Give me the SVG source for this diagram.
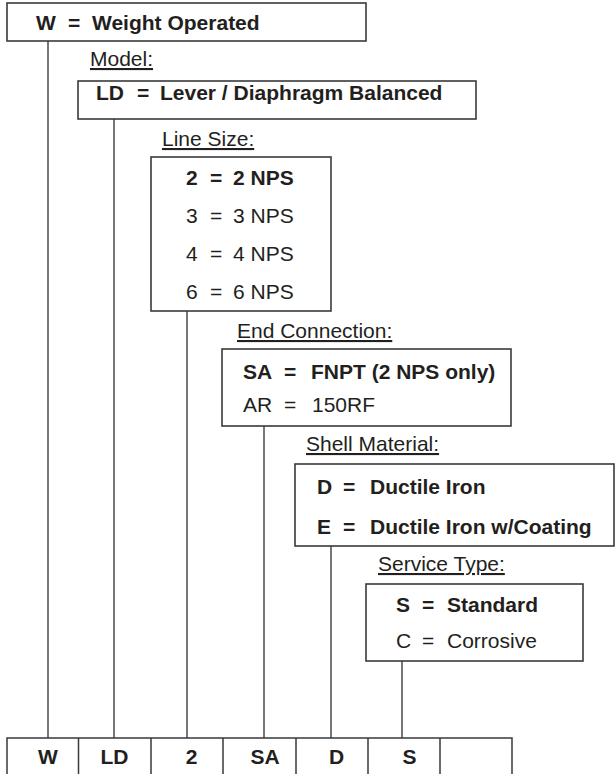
<svg xmlns="http://www.w3.org/2000/svg" width="615" height="774" viewBox="0 0 615 774">
<style>
text{font-family:"Liberation Sans",Arial,sans-serif;font-size:21px;fill:#231f20}
.b{font-weight:bold}
.lbl{text-decoration:underline}
.box{fill:#fff;stroke:#3a3a3a;stroke-width:1.6}
.con{stroke:#4a4a4a;stroke-width:1.5;fill:none}
.cell{stroke:#3a3a3a;stroke-width:1.5;fill:none}
.c{text-anchor:middle;font-weight:bold}
</style>
<rect width="615" height="774" fill="#fff"/>
<g id="connectors">
<line class="con" x1="48" y1="41" x2="48" y2="738"/>
<line class="con" x1="114" y1="119" x2="114" y2="738"/>
<line class="con" x1="187" y1="311" x2="187" y2="738"/>
<line class="con" x1="264" y1="426" x2="264" y2="738"/>
<line class="con" x1="331" y1="546" x2="331" y2="738"/>
<line class="con" x1="402" y1="661" x2="402" y2="738"/>
</g>
<g id="node-weight">
<rect class="box" x="7" y="3" width="359" height="38"/>
<text class="b" y="30"><tspan x="36">W</tspan><tspan x="68">=</tspan><tspan x="92">Weight Operated</tspan></text>
</g>
<g id="node-model">
<text class="lbl" x="90" y="66">Model:</text>
<rect class="box" x="78" y="81" width="398" height="38"/>
<text class="b" y="100"><tspan x="96">LD</tspan><tspan x="137">=</tspan><tspan x="160">Lever / Diaphragm Balanced</tspan></text>
</g>
<g id="node-linesize">
<text class="lbl" x="162" y="146">Line Size:</text>
<rect class="box" x="151" y="157" width="180" height="154"/>
<text class="b" y="185"><tspan x="186">2</tspan><tspan x="210">=</tspan><tspan x="233">2 NPS</tspan></text>
<text y="223"><tspan x="186">3</tspan><tspan x="210">=</tspan><tspan x="233">3 NPS</tspan></text>
<text y="261"><tspan x="186">4</tspan><tspan x="210">=</tspan><tspan x="233">4 NPS</tspan></text>
<text y="299"><tspan x="186">6</tspan><tspan x="210">=</tspan><tspan x="233">6 NPS</tspan></text>
</g>
<g id="node-endconnection">
<text class="lbl" x="237" y="338">End Connection:</text>
<rect class="box" x="222" y="349" width="289" height="77"/>
<text class="b" y="379"><tspan x="243">SA</tspan><tspan x="284">=</tspan><tspan x="311">FNPT (2 NPS only)</tspan></text>
<text y="412"><tspan x="243">AR</tspan><tspan x="284">=</tspan><tspan x="312">150RF</tspan></text>
</g>
<g id="node-shellmaterial">
<text class="lbl" x="306" y="451">Shell Material:</text>
<rect class="box" x="295" y="464" width="319" height="82"/>
<text class="b" y="494"><tspan x="317">D</tspan><tspan x="343">=</tspan><tspan x="370">Ductile Iron</tspan></text>
<text class="b" y="534"><tspan x="317">E</tspan><tspan x="343">=</tspan><tspan x="370">Ductile Iron w/Coating</tspan></text>
</g>
<g id="node-servicetype">
<text class="lbl" x="378" y="571">Service Type:</text>
<rect class="box" x="366" y="584" width="217" height="77"/>
<text class="b" y="612"><tspan x="396">S</tspan><tspan x="422">=</tspan><tspan x="447">Standard</tspan></text>
<text y="648"><tspan x="396">C</tspan><tspan x="422">=</tspan><tspan x="447">Corrosive</tspan></text>
</g>
<g id="node-table">
<path class="cell" d="M7 775V738H512V775M78.5 738V775M151 738V775M223 738V775M296 738V775M368 738V775M440 738V775"/>
<text class="c" x="48" y="764">W</text>
<text class="c" x="114.5" y="764">LD</text>
<text class="c" x="191.5" y="764">2</text>
<text class="c" x="265" y="764">SA</text>
<text class="c" x="336.5" y="764">D</text>
<text class="c" x="409.5" y="764">S</text>
</g>
</svg>
